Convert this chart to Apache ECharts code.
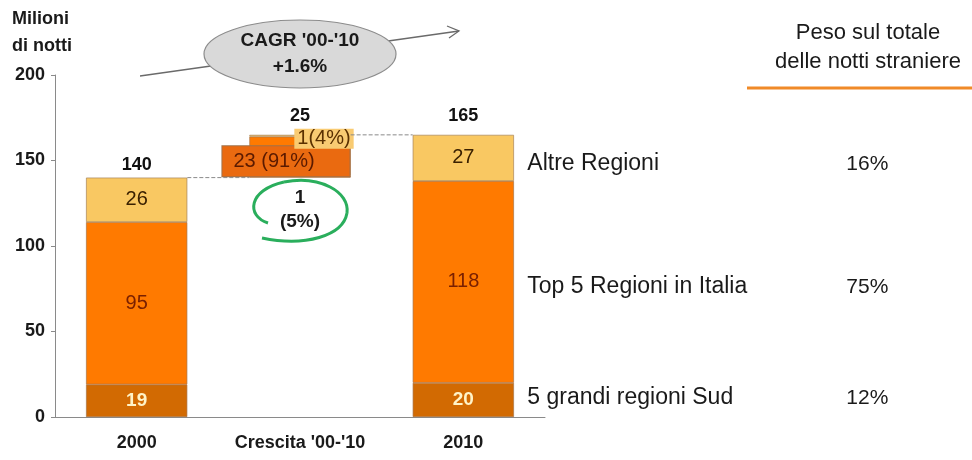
<!DOCTYPE html>
<html>
<head>
<meta charset="utf-8">
<script src="https://cdn.jsdelivr.net/npm/echarts@6/dist/echarts.min.js"></script>
<style>html,body{margin:0;padding:0;background:#fff;}#c{width:972px;height:460px;}</style>
</head>
<body>
<div id="c"></div>
<script>
// ---- data ----
const categories = ['2000', "Crescita '00-'10", '2010'];
const base  = [0, 140, 0];
const sud   = [19, 1, 20];
const top5  = [95, 23, 118];
const altre = [26, 1, 27];
const totals = [140, 25, 165];
const growthShares = { sud: '5%', top5: '91%', altre: '4%' };
const regionNames = ['Altre Regioni', 'Top 5 Regioni in Italia', '5 grandi regioni Sud'];
const weightShares = ['16%', '75%', '12%'];
const yMin = 0, yMax = 200, yStep = 50;
const cagrLabel = "CAGR '00-'10";
const cagrValue = '+1.6%';

// ---- styles ----
const FONT = 'Liberation Sans, Arial, sans-serif';
const C_SUD = '#D26A02', C_TOP = '#FF7A00', C_ALT = '#F9C862';
const BAR_FRAC = 0.62;
const hw = BAR_FRAC / 2;
const rowNudge = [6, 5, -2];       // vertical nudges of the right-hand rows
const totalDist = [4, 10, 10];     // distance of total labels above stacks

const tops = categories.map((_, i) => base[i] + sud[i] + top5[i] + altre[i]);
const gi = 1; // growth column index

function seg(arr, midLabel) {
  return arr.map((v, i) => {
    const item = { value: v };
    if (i === gi) item.label = midLabel;
    return item;
  });
}

const rowPoints = [
  tops[2] - altre[2] / 2,
  sud[2] + top5[2] / 2,
  sud[2] / 2
];

const chart = echarts.init(document.getElementById('c'), null, { renderer: 'canvas' });

const green = { stroke: '#2AAE5C', lineWidth: 3, fill: null };
const TXT = '#1a1a1a';

const option = {
  backgroundColor: '#fff',
  animation: false,
  textStyle: { fontFamily: FONT },
  grid: { left: 55, right: 427, top: 75, bottom: 43, containLabel: false },
  xAxis: [
    {
      type: 'category', data: categories, gridIndex: 0,
      axisLine: { lineStyle: { color: '#8a8a8a', width: 1 } },
      axisTick: { show: false },
      axisLabel: { interval: 0, color: TXT, fontWeight: 'bold', fontSize: 18, margin: 17, fontFamily: FONT }
    },
    { type: 'value', gridIndex: 0, min: -0.5, max: 2.5, show: false }
  ],
  yAxis: {
    type: 'value', min: yMin, max: yMax, interval: yStep,
    axisLine: { show: true, onZero: false, lineStyle: { color: '#8a8a8a', width: 1 } },
    axisTick: { show: true, length: 4, lineStyle: { color: '#8a8a8a' } },
    splitLine: { show: false },
    axisLabel: { color: TXT, fontWeight: 'bold', fontSize: 18, margin: 10, fontFamily: FONT }
  },
  series: [
    {
      type: 'bar', stack: 's', data: base, barWidth: (BAR_FRAC * 100) + '%',
      itemStyle: { color: 'transparent' }, silent: true, label: { show: false }
    },
    {
      type: 'bar', stack: 's', name: regionNames[2],
      itemStyle: { color: C_SUD, borderColor: '#a87448', borderWidth: 0.7 },
      label: { show: true, position: 'inside', color: '#FFF3C8', fontWeight: 'bold', fontSize: 19, fontFamily: FONT },
      data: seg(sud, {
        position: 'bottom', distance: 8, color: TXT, fontWeight: 'bold', fontSize: 19, lineHeight: 24,
        formatter: (p) => p.value + '\n(' + growthShares.sud + ')'
      })
    },
    {
      type: 'bar', stack: 's', name: regionNames[1],
      itemStyle: { color: C_TOP, borderColor: '#a87448', borderWidth: 0.7 },
      label: { show: true, position: 'inside', color: '#7A2000', fontSize: 20, fontFamily: FONT },
      data: seg(top5, {
        position: 'inside', offset: [-14, 5], color: '#5a1a00', fontSize: 20,
        backgroundColor: '#EA6A10', borderColor: '#a0724a', borderWidth: 1,
        padding: [5, 35, 5, 11],
        formatter: (p) => p.value + ' (' + growthShares.top5 + ')'
      })
    },
    {
      type: 'bar', stack: 's', name: regionNames[0],
      itemStyle: { color: C_ALT, borderColor: '#a88458', borderWidth: 0.7 },
      label: { show: true, position: 'inside', color: '#3a2000', fontSize: 20, fontFamily: FONT },
      data: seg(altre, {
        position: 'inside', offset: [24, 3], color: '#5a3000', fontSize: 20,
        backgroundColor: '#F9CB72', padding: [0, 3, 0, 3],
        formatter: (p) => p.value + '(' + growthShares.altre + ')'
      })
    },
    {
      type: 'scatter', symbolSize: 0, silent: true, itemStyle: { opacity: 1 },
      data: categories.map((c, i) => ({ value: [c, tops[i]], label: { distance: totalDist[i] } })),
      label: {
        show: true, position: 'top', color: '#111', fontWeight: 'bold', fontSize: 18, fontFamily: FONT,
        formatter: (p) => String(totals[p.dataIndex])
      }
    },
    {
      type: 'scatter', symbolSize: 0, silent: true, itemStyle: { opacity: 1 },
      data: rowPoints.map((v, i) => ({ value: [categories[2], v], label: { offset: [0, rowNudge[i]] } })),
      label: {
        show: true, position: 'right', distance: 64, color: TXT, fontSize: 23, fontFamily: FONT,
        formatter: (p) => regionNames[p.dataIndex]
      }
    },
    {
      type: 'scatter', symbolSize: 0, silent: true, itemStyle: { opacity: 1 },
      data: rowPoints.map((v, i) => ({ value: [categories[2], v], label: { offset: [404, rowNudge[i]] } })),
      label: {
        show: true, position: 'inside', align: 'center', color: TXT, fontSize: 21, fontFamily: FONT,
        formatter: (p) => weightShares[p.dataIndex]
      }
    },
    {
      type: 'line', xAxisIndex: 1, yAxisIndex: 0, symbol: 'none', silent: true,
      lineStyle: { type: 'dashed', color: '#8a8a8a', width: 1 },
      data: [[0 + hw, tops[0]], [1 - hw, tops[0]]]
    },
    {
      type: 'line', xAxisIndex: 1, yAxisIndex: 0, symbol: 'none', silent: true,
      lineStyle: { type: 'dashed', color: '#8a8a8a', width: 1 },
      data: [[1 + hw, tops[1]], [2 - hw, tops[1]]]
    }
  ],
  graphic: [
    {
      type: 'text', x: 12, y: 6,
      style: { text: 'Milioni\ndi notti', font: 'bold 18px ' + FONT, fill: TXT, lineHeight: 27 }
    },
    {
      type: 'line', shape: { x1: 140, y1: 76, x2: 459, y2: 31 },
      style: { stroke: '#6a6a6a', lineWidth: 1.3 }, z: 1
    },
    {
      type: 'polyline', shape: { points: [[447, 26], [459, 31], [449, 38]] },
      style: { stroke: '#6a6a6a', lineWidth: 1.3, fill: null }, z: 1
    },
    {
      type: 'ellipse', shape: { cx: 300, cy: 54, rx: 96, ry: 34 },
      style: { fill: '#d9d9d9', stroke: '#8c8c8c', lineWidth: 1.2 }, z: 5
    },
    {
      type: 'text', x: 300, y: 54, z: 6,
      style: { text: cagrLabel + '\n' + cagrValue, font: 'bold 19px ' + FONT, fill: TXT, align: 'center', verticalAlign: 'middle', lineHeight: 26 }
    },
    {
      type: 'bezierCurve', z: 6,
      shape: { x1: 268, y1: 223, cpx1: 246, cpy1: 216, cpx2: 248, cpy2: 190, x2: 284, y2: 182 },
      style: green
    },
    {
      type: 'bezierCurve', z: 6,
      shape: { x1: 284, y1: 182, cpx1: 320, cpy1: 175, cpx2: 350, cpy2: 192, x2: 347, y2: 213 },
      style: green
    },
    {
      type: 'bezierCurve', z: 6,
      shape: { x1: 347, y1: 213, cpx1: 343, cpy1: 236, cpx2: 305, cpy2: 247, x2: 262, y2: 238 },
      style: green
    },
    {
      type: 'text', x: 868, y: 47,
      style: { text: 'Peso sul totale\ndelle notti straniere', font: '22px ' + FONT, fill: TXT, align: 'center', verticalAlign: 'middle', lineHeight: 29 }
    },
    {
      type: 'line', shape: { x1: 747, y1: 88, x2: 972, y2: 88 },
      style: { stroke: '#F08A28', lineWidth: 3 }
    }
  ]
};
chart.setOption(option);
</script>
</body>
</html>
